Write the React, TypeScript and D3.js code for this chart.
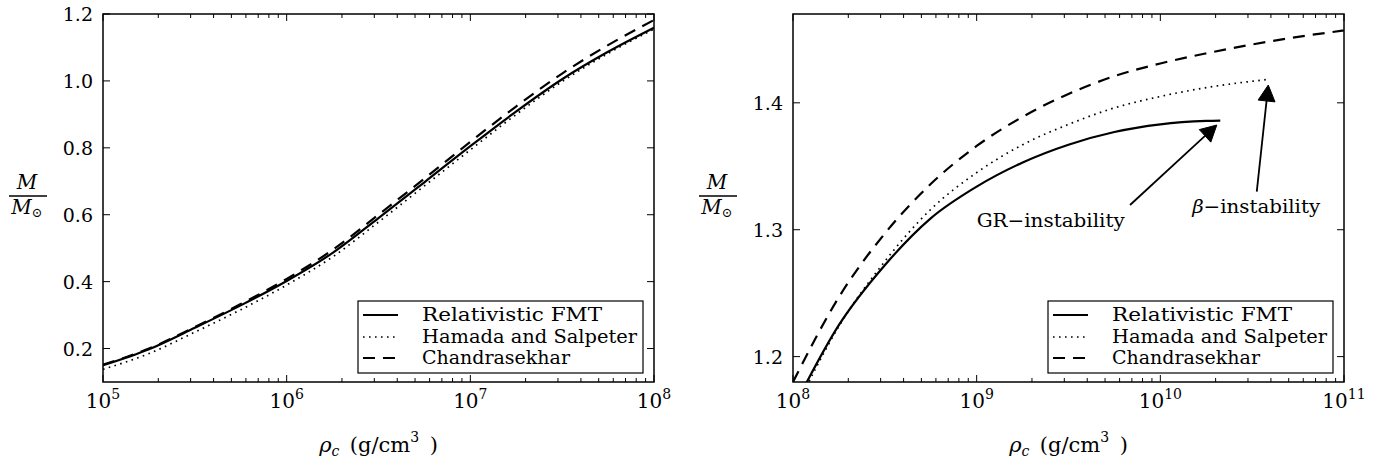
import React from "react";
import * as d3 from "d3";

// ---------------- data ----------------
// Left panel (rho_c in g/cm^3, M in solar masses)
const rhoLeft = [1e5, 1.78e5, 3.16e5, 5.62e5, 1e6, 1.78e6, 3.16e6, 5.62e6, 1e7, 1.78e7, 3.16e7, 5.62e7, 1e8];
const fmtLeft = [0.15, 0.198, 0.262, 0.329, 0.402, 0.486, 0.59, 0.697, 0.805, 0.909, 1.005, 1.087, 1.159];
const hsLeft = [0.138, 0.185, 0.249, 0.316, 0.39, 0.474, 0.578, 0.686, 0.794, 0.9, 0.998, 1.082, 1.155];
const chLeft = [0.152, 0.2, 0.264, 0.333, 0.408, 0.495, 0.6, 0.708, 0.818, 0.924, 1.022, 1.107, 1.182];

// Right panel
const rhoChRight = [1e8, 1.78e8, 3.16e8, 5.62e8, 1e9, 1.78e9, 3.16e9, 5.62e9, 1e10, 1.78e10, 3.16e10, 5.62e10, 1e11];
const chRight = [1.18, 1.247, 1.297, 1.336, 1.366, 1.389, 1.407, 1.421, 1.431, 1.439, 1.446, 1.452, 1.457];
const rhoFmtRight = [1e8, 1.78e8, 3.16e8, 5.62e8, 1e9, 1.78e9, 3.16e9, 5.62e9, 1e10, 1.78e10, 2.12e10];
const fmtRight = [1.159, 1.225, 1.272, 1.309, 1.334, 1.353, 1.367, 1.377, 1.383, 1.3857, 1.386];
const rhoHsRight = [1e8, 1.78e8, 3.16e8, 5.62e8, 1e9, 1.78e9, 3.16e9, 5.62e9, 1e10, 1.78e10, 3.16e10, 3.9e10];
const hsRight = [1.155, 1.224, 1.275, 1.316, 1.345, 1.367, 1.383, 1.396, 1.405, 1.412, 1.417, 1.4185];

const yTicksLeft = [0.2, 0.4, 0.6, 0.8, 1.0, 1.2];
const yTicksRight = [1.2, 1.3, 1.4];
const xExpLeft = [5, 6, 7, 8];
const xExpRight = [8, 9, 10, 11];

const legendLabels = ["Relativistic FMT", "Hamada and Salpeter", "Chandrasekhar"];
const legendWidths = [180, 215, 148];

// annotations (data coords): tip (rho, M), tail (rho, M), text anchor (rho, M)
const annTip = [[2.03e10, 1.3825], [3.87e10, 1.414]];
const annTail = [[6.84e9, 1.3195], [3.35e10, 1.33]];
const annText = [[1.0e9, 1.302], [1.49e10, 1.313]];
const annLabels = [["GR", "−instability"], ["β", "−instability"]];
const annWidths = [148, 128];

// ---------------- layout ----------------
const W = 1377, H = 464;
const TOP = 14, BOTTOM = 382;
const FONT = "DejaVu Serif, Liberation Serif, serif";

type Style = "solid" | "dotted" | "dashed";
const styleAttrs = (s: Style) =>
  s === "solid"
    ? { strokeWidth: 2.2 }
    : s === "dotted"
    ? { strokeWidth: 1.7, strokeDasharray: "1.6,4.4" }
    : { strokeWidth: 2.2, strokeDasharray: "12,8" };

interface Series { rho: number[]; m: number[]; style: Style }

function Panel(props: {
  id: string;
  x0: number; x1: number;
  xExp: number[];
  yDomain: [number, number];
  yTicks: number[];
  yFmt: (v: number) => string;
  series: Series[];
  ann?: boolean;
}) {
  const { id, x0, x1, xExp, yDomain, yTicks, yFmt, series, ann } = props;
  const x = d3.scaleLog().domain([10 ** xExp[0], 10 ** xExp[xExp.length - 1]]).range([x0, x1]);
  const y = d3.scaleLinear().domain(yDomain).range([BOTTOM, TOP]);
  const line = d3.line<[number, number]>().x(d => x(d[0])).y(d => y(d[1])).curve(d3.curveMonotoneX);

  const minor: number[] = [];
  for (let e = xExp[0]; e < xExp[xExp.length - 1]; e++) {
    for (let k = 2; k <= 9; k++) minor.push(k * 10 ** e);
  }
  const MAJ = 7, MIN = 4;

  const boxW = 285;
  const boxR = x1 - 11;
  const boxL = boxR - boxW;
  const boxT = 301, boxB = 373;
  const rowY = [315, 337, 358];
  const legendStyles: Style[] = ["solid", "dotted", "dashed"];

  const cx = (x0 + x1) / 2;
  const tf = { fontFamily: FONT };

  return (
    <g>
      <defs>
        <clipPath id={id}>
          <rect x={x0} y={TOP} width={x1 - x0} height={BOTTOM - TOP} />
        </clipPath>
      </defs>
      <g clipPath={`url(#${id})`}>
        {series.map((s, i) => (
          <path
            key={i}
            d={line(s.rho.map((r, j) => [r, s.m[j]] as [number, number])) || ""}
            fill="none"
            stroke="#000"
            {...styleAttrs(s.style)}
          />
        ))}
      </g>
      {xExp.map(e => (
        <g key={"M" + e}>
          <line x1={x(10 ** e)} x2={x(10 ** e)} y1={BOTTOM} y2={BOTTOM - MAJ} stroke="#000" strokeWidth={1} />
          <line x1={x(10 ** e)} x2={x(10 ** e)} y1={TOP} y2={TOP + MAJ} stroke="#000" strokeWidth={1} />
          <text x={x(10 ** e)} y={408} style={tf} fontSize={20} textAnchor="middle">
            10<tspan fontSize={14} dy={-9}>{e}</tspan>
          </text>
        </g>
      ))}
      {minor.map((v, i) => (
        <g key={"m" + i}>
          <line x1={x(v)} x2={x(v)} y1={BOTTOM} y2={BOTTOM - MIN} stroke="#000" strokeWidth={1} />
          <line x1={x(v)} x2={x(v)} y1={TOP} y2={TOP + MIN} stroke="#000" strokeWidth={1} />
        </g>
      ))}
      {yTicks.map(t => (
        <g key={"y" + t}>
          <line x1={x0} x2={x0 + MAJ} y1={y(t)} y2={y(t)} stroke="#000" strokeWidth={1} />
          <line x1={x1} x2={x1 - MAJ} y1={y(t)} y2={y(t)} stroke="#000" strokeWidth={1} />
          <text x={x0 - 10} y={y(t) + 7} style={tf} fontSize={19} textAnchor="end">
            {yFmt(t)}
          </text>
        </g>
      ))}
      <rect x={x0} y={TOP} width={x1 - x0} height={BOTTOM - TOP} fill="none" stroke="#000" strokeWidth={1.5} />

      <text x={cx} y={452} style={tf} fontSize={21} textAnchor="middle">
        <tspan fontStyle="italic">ρ</tspan>
        <tspan fontStyle="italic" fontSize={14} dy={4}>c</tspan>
        <tspan dy={-4}>{"\u2002(g/cm"}</tspan>
        <tspan fontSize={14} dy={-10}>3</tspan>
        <tspan dy={10}>{"\u2002)"}</tspan>
      </text>

      <g style={tf}>
        <text x={x0 - 76} y={189} fontSize={20} fontStyle="italic" textAnchor="middle">M</text>
        <line x1={x0 - 94} x2={x0 - 56} y1={196} y2={196} stroke="#000" strokeWidth={1.3} />
        <text x={x0 - 76} y={214} fontSize={20} textAnchor="middle">
          <tspan fontStyle="italic">M</tspan>
          <tspan fontSize={13} dy={3}>⊙</tspan>
        </text>
      </g>

      {ann &&
        annLabels.map((lab, i) => {
          const tx = x(annTip[i][0]), ty = y(annTip[i][1]);
          const sx = x(annTail[i][0]), sy = y(annTail[i][1]);
          const ang = Math.atan2(ty - sy, tx - sx);
          const hl = 16, hw = 8.5;
          const bx = tx - hl * Math.cos(ang), by = ty - hl * Math.sin(ang);
          const px = -Math.sin(ang), py = Math.cos(ang);
          const pts = [
            [tx, ty],
            [bx + hw * px, by + hw * py],
            [bx - hw * px, by - hw * py],
          ].map(p => p.join(",")).join(" ");
          return (
            <g key={"a" + i}>
              <line x1={sx} y1={sy} x2={bx} y2={by} stroke="#000" strokeWidth={1.8} />
              <polygon points={pts} fill="#000" stroke="#000" strokeWidth={1} />
              <text x={x(annText[i][0])} y={y(annText[i][1])} style={tf} fontSize={19}
                textLength={annWidths[i]} lengthAdjust="spacingAndGlyphs">
                <tspan fontStyle={i === 1 ? "italic" : "normal"}>{lab[0]}</tspan>
                <tspan>{lab[1]}</tspan>
              </text>
            </g>
          );
        })}

      <rect x={boxL} y={boxT} width={boxW} height={boxB - boxT} fill="#fff" stroke="#000" strokeWidth={1.2} />
      {legendLabels.map((lab, i) => (
        <g key={"l" + i}>
          <line x1={boxL + 5} x2={boxL + 40} y1={rowY[i]} y2={rowY[i]} stroke="#000" {...styleAttrs(legendStyles[i])} />
          <text x={boxL + 64} y={rowY[i] + 6} style={tf} fontSize={18.5}
            textLength={legendWidths[i]} lengthAdjust="spacingAndGlyphs">{lab}</text>
        </g>
      ))}
    </g>
  );
}

export default function App() {
  return (
    <svg width={W} height={H} viewBox={`0 0 ${W} ${H}`}
      style={{ position: "absolute", left: 0, top: 0, background: "#fff" }}>
      <rect x={0} y={0} width={W} height={H} fill="#fff" />
      <Panel
        id="clipL"
        x0={103} x1={654}
        xExp={xExpLeft}
        yDomain={[0.1, 1.2]}
        yTicks={yTicksLeft}
        yFmt={d3.format(".1f")}
        series={[
          { rho: rhoLeft, m: fmtLeft, style: "solid" },
          { rho: rhoLeft, m: hsLeft, style: "dotted" },
          { rho: rhoLeft, m: chLeft, style: "dashed" },
        ]}
      />
      <Panel
        id="clipR"
        x0={793} x1={1344}
        xExp={xExpRight}
        yDomain={[1.18, 1.47]}
        yTicks={yTicksRight}
        yFmt={d3.format(".1f")}
        series={[
          { rho: rhoFmtRight, m: fmtRight, style: "solid" },
          { rho: rhoHsRight, m: hsRight, style: "dotted" },
          { rho: rhoChRight, m: chRight, style: "dashed" },
        ]}
        ann
      />
    </svg>
  );
}
